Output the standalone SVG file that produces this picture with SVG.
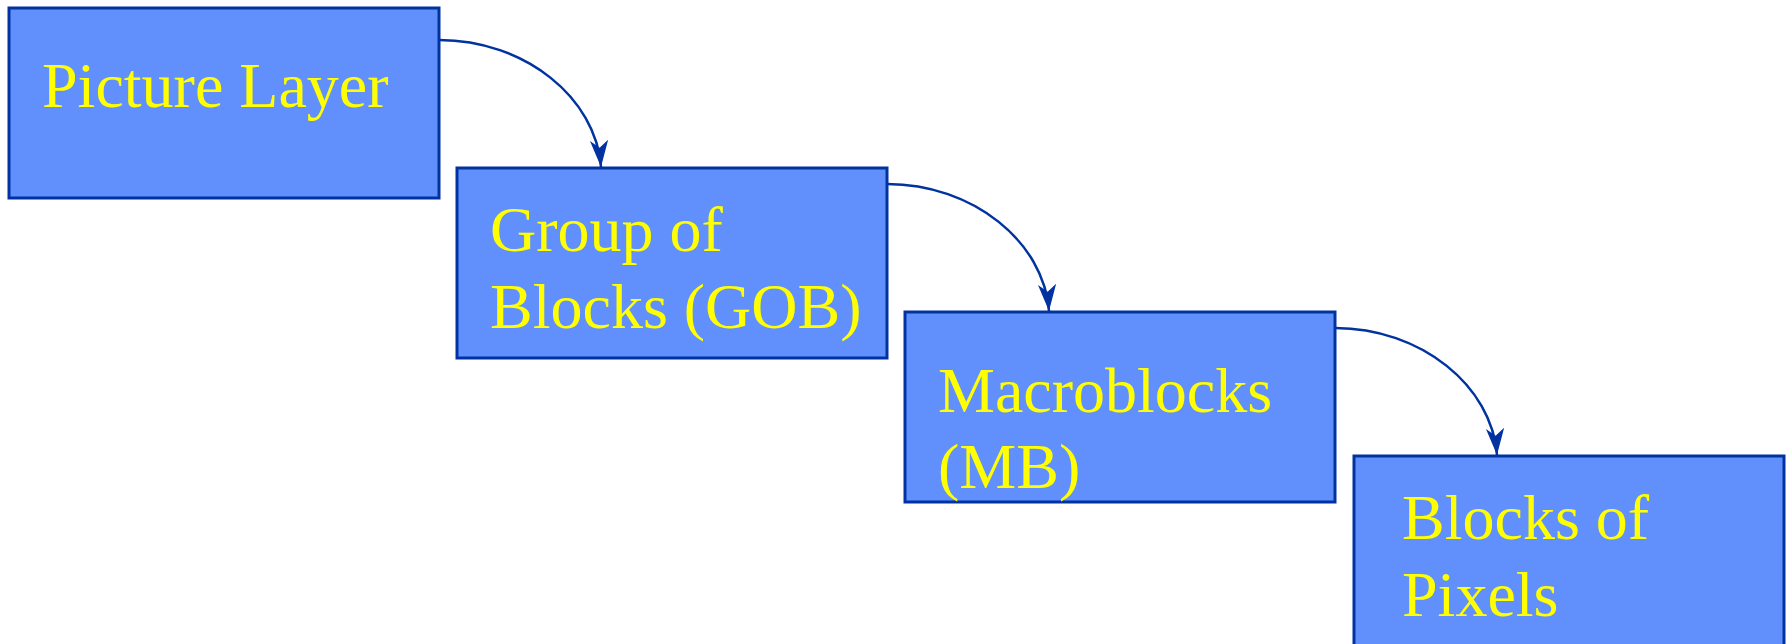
<svg xmlns="http://www.w3.org/2000/svg" width="1788" height="644" viewBox="0 0 1788 644">
<style>
.box{fill:#6190FD;stroke:#0033A0;stroke-width:3}
.lbl{font-family:"Liberation Serif","Times New Roman",serif;font-size:64px;fill:#FFFF00}
.conn{fill:none;stroke:#0033A0;stroke-width:2.5}
</style>
<defs>
<marker id="arr" markerUnits="userSpaceOnUse" markerWidth="30" markerHeight="24" viewBox="-26 -10 28 20" refX="0" refY="0" orient="auto">
<path d="M0,0 L-25,-8.5 L-18,0 L-25,8.5 Z" fill="#0033A0"/>
</marker>
</defs>
<rect width="1788" height="644" fill="#ffffff"/>
<g id="connectors">
<path class="conn" d="M439,40 C525,40 596,98 601,167" marker-end="url(#arr)"/>
<path class="conn" d="M887,184 C973,184 1044,242 1049,311" marker-end="url(#arr)"/>
<path class="conn" d="M1335,328 C1421,328 1492,386 1497,455" marker-end="url(#arr)"/>
</g>
<g id="picture-layer">
<rect class="box" x="9" y="8" width="430" height="190"/>
<text class="lbl" x="42" y="107">Picture Layer</text>
</g>
<g id="gob">
<rect class="box" x="457" y="168" width="430" height="190"/>
<text class="lbl" x="490" y="251">Group of</text>
<text class="lbl" x="490" y="328">Blocks (GOB)</text>
</g>
<g id="macroblocks">
<rect class="box" x="905" y="312" width="430" height="190"/>
<text class="lbl" x="938" y="412">Macroblocks</text>
<text class="lbl" x="938" y="488">(MB)</text>
</g>
<g id="blocks-of-pixels">
<rect class="box" x="1354" y="456" width="430" height="200"/>
<text class="lbl" x="1402" y="539">Blocks of</text>
<text class="lbl" x="1402" y="616">Pixels</text>
</g>
</svg>
